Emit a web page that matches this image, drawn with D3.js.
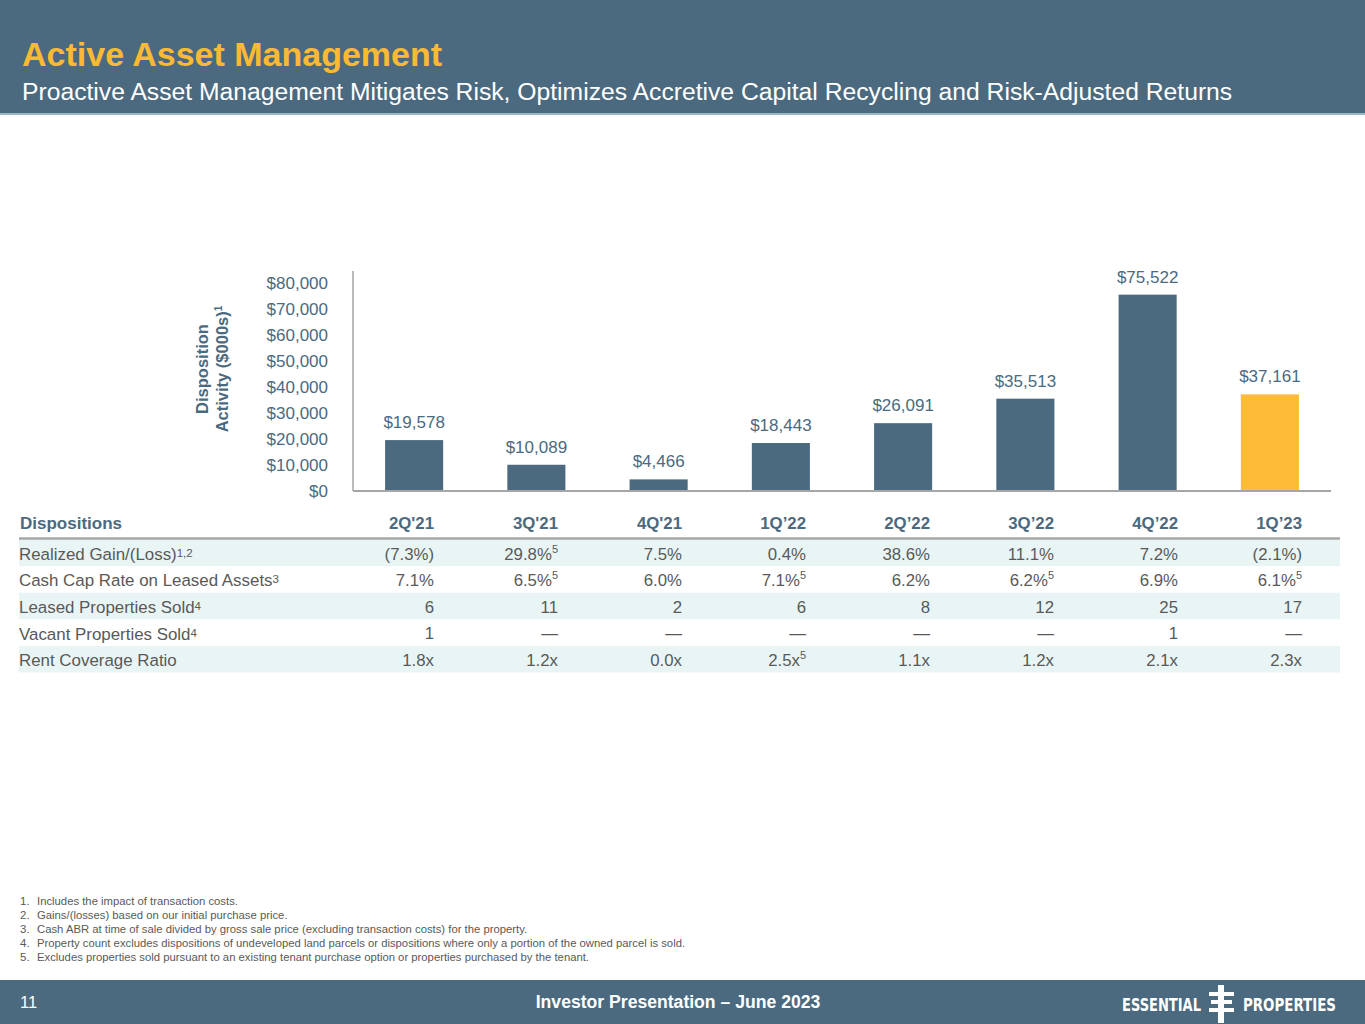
<!DOCTYPE html>
<html>
<head>
<meta charset="utf-8">
<script src="https://cdn.jsdelivr.net/npm/d3@7"></script>
<style>
  html, body { margin: 0; padding: 0; background: #fff; }
  svg { display: block; font-family: "Liberation Sans", Arial, sans-serif; }
</style>
</head>
<body>
<svg id="chart" width="1365" height="1024"></svg>
<script>
// ---------- DATA ----------
const quarters = ["2Q'21", "3Q'21", "4Q'21", "1Q\u201922", "2Q\u201922", "3Q\u201922", "4Q\u201922", "1Q\u201923"];
const dispositionValues = [19578, 10089, 4466, 18443, 26091, 35513, 75522, 37161];
const highlightQuarter = "1Q\u201923";
const yTicks = [0, 10000, 20000, 30000, 40000, 50000, 60000, 70000, 80000];

const rowLabels = ["Realized Gain/(Loss)", "Cash Cap Rate on Leased Assets", "Leased Properties Sold", "Vacant Properties Sold", "Rent Coverage Ratio"];
const rowLabelSups = ["1,2", "3", "4", "4", ""];
const realizedGain = ["(7.3%)", "29.8%", "7.5%", "0.4%", "38.6%", "11.1%", "7.2%", "(2.1%)"];
const realizedGainSup = ["", "5", "", "", "", "", "", ""];
const cashCapRate = ["7.1%", "6.5%", "6.0%", "7.1%", "6.2%", "6.2%", "6.9%", "6.1%"];
const cashCapRateSup = ["", "5", "", "5", "", "5", "", "5"];
const leasedSold = ["6", "11", "2", "6", "8", "12", "25", "17"];
const vacantSold = ["1", "\u2014", "\u2014", "\u2014", "\u2014", "\u2014", "1", "\u2014"];
const rentCoverage = ["1.8x", "1.2x", "0.0x", "2.5x", "1.1x", "1.2x", "2.1x", "2.3x"];
const rentCoverageSup = ["", "", "", "5", "", "", "", ""];

const footnotes = [
  "Includes the impact of transaction costs.",
  "Gains/(losses) based on our initial purchase price.",
  "Cash ABR at time of sale divided by gross sale price (excluding transaction costs) for the property.",
  "Property count excludes dispositions of undeveloped land parcels or dispositions where only a portion of the owned parcel is sold.",
  "Excludes properties sold pursuant to an existing tenant purchase option or properties purchased by the tenant."
];

// ---------- STYLE ----------
const SLATE = "#4B6A7F";
const YELLOW = "#FBB934";
const GRAY_TEXT = "#595959";
const AXIS = "#A6A6A6";
const ROW_BG = "#E9F5F5";

const svg = d3.select("#chart");

// ---------- HEADER ----------
svg.append("rect").attr("x", 0).attr("y", 0).attr("width", 1365).attr("height", 114).attr("fill", SLATE);
svg.append("rect").attr("x", 0).attr("y", 113).attr("width", 1365).attr("height", 2).attr("fill", "#9BB6C6");
svg.append("text").attr("x", 22).attr("y", 66)
  .attr("fill", YELLOW).attr("font-size", 34).attr("font-weight", "bold")
  .text("Active Asset Management");
svg.append("text").attr("x", 22).attr("y", 100)
  .attr("fill", "#FFFFFF").attr("font-size", 24.7)
  .text("Proactive Asset Management Mitigates Risk, Optimizes Accretive Capital Recycling and Risk-Adjusted Returns");

// ---------- CHART ----------
const x = d3.scaleBand().domain(quarters).range([353, 1331]).paddingInner(0.525).paddingOuter(0.2625);
const y = d3.scaleLinear().domain([0, 80000]).range([491, 283]);

// bars
svg.append("g").selectAll("rect").data(quarters).join("rect")
  .attr("x", d => x(d))
  .attr("width", x.bandwidth())
  .attr("y", (d, i) => y(dispositionValues[i]))
  .attr("height", (d, i) => y(0) - y(dispositionValues[i]))
  .attr("fill", d => d === highlightQuarter ? "#FDBB38" : SLATE);

// value labels
svg.append("g").selectAll("text").data(quarters).join("text")
  .attr("x", d => x(d) + x.bandwidth() / 2)
  .attr("y", (d, i) => y(dispositionValues[i]) - 12)
  .attr("text-anchor", "middle")
  .attr("font-size", 17)
  .attr("fill", SLATE)
  .text((d, i) => "$" + d3.format(",")(dispositionValues[i]));

// y axis
const yAxis = d3.axisLeft(y).tickValues(yTicks).tickSize(0).tickPadding(25)
  .tickFormat(d => "$" + d3.format(",")(d));
const gy = svg.append("g").attr("transform", "translate(353,0)").call(yAxis);
gy.select(".domain").remove();
gy.selectAll("text").attr("font-size", 17).attr("fill", SLATE)
  .attr("font-family", "'Liberation Sans', Arial, sans-serif");

// axis lines
svg.append("line").attr("x1", 353).attr("x2", 353).attr("y1", y(0)).attr("y2", y(80000) - 12)
  .attr("stroke", AXIS).attr("stroke-width", 1.5);
svg.append("line").attr("x1", 353).attr("x2", 1331).attr("y1", y(0)).attr("y2", y(0))
  .attr("stroke", AXIS).attr("stroke-width", 2);

// y title
const yt = svg.append("text").attr("transform", "translate(208,369) rotate(-90)")
  .attr("text-anchor", "middle").attr("font-weight", "bold").attr("font-size", 16.5).attr("fill", SLATE);
yt.append("tspan").attr("x", 0).attr("dy", 0).text("Disposition");
yt.append("tspan").attr("x", 0).attr("dy", 20).text("Activity ($000s)");
yt.append("tspan").attr("font-size", 10).attr("dy", -6).text("1");

// ---------- TABLE ----------
const colRight = d3.scalePoint().domain(quarters).range([434, 1302]);
const tableLeft = 19, tableRight = 1340;
const headerY = 525;
const rowTop = 539.5, rowH = 26.6;

svg.append("text").attr("x", tableLeft + 1).attr("y", headerY).attr("dominant-baseline", "middle")
  .attr("font-weight", "bold").attr("font-size", 17).attr("fill", SLATE).text("Dispositions");
svg.append("g").selectAll("text").data(quarters).join("text")
  .attr("x", d => colRight(d)).attr("y", headerY).attr("dominant-baseline", "middle")
  .attr("text-anchor", "end").attr("font-weight", "bold").attr("font-size", 16.8).attr("fill", SLATE)
  .text(d => d);

const tableRows = [
  { vals: realizedGain, sups: realizedGainSup },
  { vals: cashCapRate, sups: cashCapRateSup },
  { vals: leasedSold, sups: quarters.map(() => "") },
  { vals: vacantSold, sups: quarters.map(() => "") },
  { vals: rentCoverage, sups: rentCoverageSup }
];

tableRows.forEach((row, r) => {
  const top = rowTop + r * rowH;
  if (r % 2 === 0) {
    svg.append("rect").attr("x", tableLeft).attr("y", top).attr("width", tableRight - tableLeft)
      .attr("height", rowH).attr("fill", ROW_BG);
  }
  const cy = top + rowH / 2 + 1;
  const lbl = svg.append("text").attr("x", tableLeft).attr("y", cy).attr("dy", "0.35em")
    .attr("font-size", 16.9).attr("fill", GRAY_TEXT);
  lbl.append("tspan").text(rowLabels[r]);
  if (rowLabelSups[r]) lbl.append("tspan").attr("font-size", 11.5).attr("dy", -3).text(rowLabelSups[r]);

  quarters.forEach((q, i) => {
    const t = svg.append("text").attr("x", colRight(q)).attr("y", cy).attr("dy", "0.35em")
      .attr("text-anchor", "end").attr("font-size", 16.8).attr("fill", GRAY_TEXT);
    t.append("tspan").text(row.vals[i]);
    if (row.sups[i]) t.append("tspan").attr("font-size", 11).attr("dy", -7).text(row.sups[i]);
  });
});

// header underline
svg.append("line").attr("x1", tableLeft).attr("x2", tableRight).attr("y1", 538.5).attr("y2", 538.5)
  .attr("stroke", AXIS).attr("stroke-width", 2.5);

// ---------- FOOTNOTES ----------
const fn = svg.append("g");
fn.selectAll("text.num").data(footnotes).join("text").attr("class", "num")
  .attr("x", 20).attr("y", (d, i) => 905 + i * 14.1)
  .attr("font-size", 11.5).attr("fill", GRAY_TEXT)
  .text((d, i) => (i + 1) + ".");
fn.selectAll("text.txt").data(footnotes).join("text").attr("class", "txt")
  .attr("x", 37).attr("y", (d, i) => 905 + i * 14.1)
  .attr("font-size", 11.3).attr("fill", GRAY_TEXT)
  .text(d => d);

// ---------- FOOTER ----------
svg.append("rect").attr("x", 0).attr("y", 980).attr("width", 1365).attr("height", 44).attr("fill", SLATE);
svg.append("text").attr("x", 20).attr("y", 1008).attr("fill", "#fff").attr("font-size", 16.5).text("11");
svg.append("text").attr("x", 678).attr("y", 1008).attr("text-anchor", "middle").attr("fill", "#fff")
  .attr("font-size", 17.6).attr("font-weight", "bold").text("Investor Presentation \u2013 June 2023");

const logo = svg.append("g");
logo.append("text").attr("x", 1122).attr("y", 1011).attr("fill", "#fff")
  .attr("font-family", "'DejaVu Sans Condensed', 'Liberation Sans Narrow', sans-serif")
  .attr("font-weight", "bold").attr("font-size", 18).attr("textLength", 79).attr("lengthAdjust", "spacingAndGlyphs")
  .text("ESSENTIAL");
logo.append("text").attr("x", 1243).attr("y", 1011).attr("fill", "#fff")
  .attr("font-family", "'DejaVu Sans Condensed', 'Liberation Sans Narrow', sans-serif")
  .attr("font-weight", "bold").attr("font-size", 18).attr("textLength", 93).attr("lengthAdjust", "spacingAndGlyphs")
  .text("PROPERTIES");
logo.append("rect").attr("x", 1218).attr("y", 985).attr("width", 6).attr("height", 38).attr("fill", "#fff");
logo.append("rect").attr("x", 1209).attr("y", 992).attr("width", 25).attr("height", 4).attr("fill", "#fff");
logo.append("rect").attr("x", 1211).attr("y", 1000).attr("width", 21).attr("height", 4).attr("fill", "#fff");
logo.append("rect").attr("x", 1209).attr("y", 1008).attr("width", 25).attr("height", 4).attr("fill", "#fff");
</script>
</body>
</html>
